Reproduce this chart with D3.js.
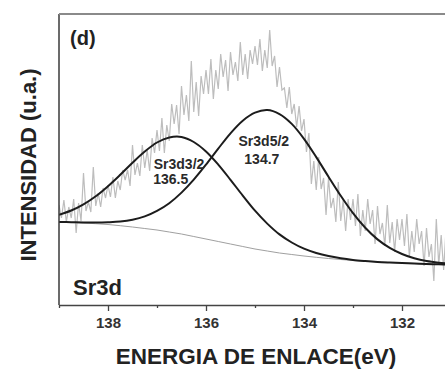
<!DOCTYPE html>
<html>
<head>
<meta charset="utf-8">
<script src="https://cdn.jsdelivr.net/npm/d3@7"></script>
<style>
  body { margin: 0; background: #fff; }
  svg { display: block; font-family: "Liberation Sans", Arial, sans-serif; }
</style>
</head>
<body>
<div id="mainDiv"></div>
<script>
// raw spectrum, one count every 0.05 eV starting at 139 eV
const spectrumStart = 139.0;
const spectrumStep = 0.05;
const spectrumCounts = [
  100, 87, 105, 83, 98, 87, 106, 72, 102, 84,
  132, 94, 103, 93, 138, 99, 112, 98, 117, 107,
  120, 108, 128, 107, 124, 115, 135, 125, 135, 119,
  160, 130, 142, 129, 160, 137, 155, 134, 167, 152,
  175, 154, 187, 152, 180, 164, 201, 181, 200, 171,
  219, 190, 210, 184, 244, 193, 223, 189, 229, 211,
  235, 211, 246, 206, 235, 216, 251, 228, 245, 214,
  253, 230, 243, 224, 263, 230, 251, 226, 255, 241,
  259, 240, 266, 234, 255, 237, 275, 239, 249, 218,
  238, 215, 217, 197, 218, 191, 201, 178, 199, 174,
  186, 153, 172, 121, 144, 115, 148, 116, 127, 90,
  127, 97, 107, 83, 123, 84, 105, 74, 106, 85,
  106, 79, 111, 69, 95, 74, 106, 81, 95, 61,
  99, 71, 82, 59, 100, 62, 83, 53, 86, 65,
  86, 59, 91, 48, 74, 53, 86, 61, 74, 39,
  77, 48, 61, 24, 86, 40, 70, 35, 77
];

const fitEnergies = [
  139, 138.75, 138.5, 138.25, 138, 137.75, 137.5, 137.25, 137, 136.75, 136.5,
  136.25, 136, 135.75, 135.5, 135.25, 135, 134.75, 134.5, 134.25, 134,
  133.75, 133.5, 133.25, 133, 132.75, 132.5, 132.25, 132, 131.75, 131.5,
  131.25, 131
];
const backgroundCounts = [
  83, 82.5, 82, 81.3, 80.5, 79.3, 78, 76.5, 75, 73, 71,
  68.5, 66, 63.5, 61, 58.5, 56, 54, 52, 50.5, 49,
  47.7, 46.5, 45.5, 44.5, 43.7, 43, 42.5, 42, 41.5, 41,
  40.7, 40.5
];
const sr3d32Counts = [
  90.3, 94.5, 100.6, 108.7, 118.8, 130.2, 142.2, 153.4, 162.5, 167.5, 168,
  163, 153.5, 140.4, 125.2, 109.4, 94.3, 81.4, 70.6, 62.5, 56.3,
  52, 48.9, 46.7, 45.1, 44, 43.1, 42.5, 42, 41.5, 41,
  40.7, 40.5
];
const sr3d52Counts = [
  83.1, 82.8, 82.6, 82.5, 82.8, 83.5, 85.3, 88.6, 94.1, 101.8, 112.4,
  125.4, 140.4, 156.4, 171.7, 184.3, 192.3, 194.9, 190.9, 181.1, 166.2,
  147.9, 128.3, 109.2, 91.8, 77.2, 65.6, 57.1, 51, 46.7, 43.9,
  42.3, 41.3
];

const xTicks = [138, 136, 134, 132];
const xMinorTicks = [139, 137, 135, 133];

const peakNames = ["Sr3d3/2", "Sr3d5/2"];
const peakPositions = ["136.5", "134.7"];

const chartSize = {
  width: 445,
  height: 371,
  margin: { top: 14, right: -6, bottom: 66, left: 59 },
};

// where the peak labels sit, in data units
const peakLabelAnchors = [
  { energy: 136.55, counts: 136, energy2: 136.72, counts2: 121 },
  { energy: 134.82, counts: 159, energy2: 134.86, counts2: 141 },
];

function createScales() {
  let x = d3.scaleLinear()
    .domain([139, 131])
    .range([chartSize.margin.left, chartSize.width - chartSize.margin.right]);

  let y = d3.scaleLinear()
    .domain([0, 291])
    .range([chartSize.height - chartSize.margin.bottom, chartSize.margin.top]);

  return { x, y };
}

function drawChart() {
  let { x, y } = createScales();
  const bottom = chartSize.height - chartSize.margin.bottom;

  const svg = d3.select("#mainDiv")
    .append("svg")
    .attr("width", chartSize.width)
    .attr("height", chartSize.height)
    .attr("viewBox", [0, 0, chartSize.width, chartSize.height]);

  svg.append("clipPath")
    .attr("id", "plotClip")
    .append("rect")
    .attr("x", chartSize.margin.left)
    .attr("y", chartSize.margin.top)
    .attr("width", chartSize.width - chartSize.margin.left)
    .attr("height", bottom - chartSize.margin.top);

  const plot = svg.append("g").attr("clip-path", "url(#plotClip)");

  let spectrum = spectrumCounts.map((c, i) => [spectrumStart - i * spectrumStep, c]);

  plot.append("path")
    .datum(spectrum)
    .attr("fill", "none")
    .attr("stroke", "#bdbdbd")
    .attr("stroke-width", 1.2)
    .attr("d", d3.line().x(d => x(d[0])).y(d => y(d[1])));

  let fitLine = d3.line()
    .x((d, i) => x(fitEnergies[i]))
    .y(d => y(d))
    .curve(d3.curveCatmullRom);

  plot.append("path")
    .datum(backgroundCounts)
    .attr("fill", "none")
    .attr("stroke", "#a0a0a0")
    .attr("stroke-width", 1)
    .attr("d", fitLine);

  [sr3d32Counts, sr3d52Counts].forEach(series => {
    plot.append("path")
      .datum(series)
      .attr("fill", "none")
      .attr("stroke", "#1c1c1c")
      .attr("stroke-width", 2)
      .attr("d", fitLine);
  });

  peakLabelAnchors.forEach((a, i) => {
    svg.append("text")
      .attr("x", x(a.energy))
      .attr("y", y(a.counts))
      .attr("text-anchor", "middle")
      .attr("font-weight", "bold")
      .attr("font-size", 14)
      .attr("fill", "#2a2a2a")
      .text(peakNames[i]);
    svg.append("text")
      .attr("x", x(a.energy2))
      .attr("y", y(a.counts2))
      .attr("text-anchor", "middle")
      .attr("font-weight", "bold")
      .attr("font-size", 14)
      .attr("fill", "#2a2a2a")
      .text(peakPositions[i]);
  });

  // frame: left and top edges
  svg.append("line")
    .attr("x1", chartSize.margin.left).attr("x2", chartSize.margin.left)
    .attr("y1", chartSize.margin.top).attr("y2", bottom)
    .attr("stroke", "#3a3a3a")
    .attr("stroke-width", 1.5);

  svg.append("line")
    .attr("x1", chartSize.margin.left).attr("x2", chartSize.width)
    .attr("y1", chartSize.margin.top).attr("y2", chartSize.margin.top)
    .attr("stroke", "#8a8a8a")
    .attr("stroke-width", 2);

  const xAxis = svg.append("g")
    .attr("transform", `translate(0,${bottom})`)
    .call(d3.axisBottom(x)
      .tickValues(xTicks)
      .tickFormat(d3.format("d"))
      .tickSize(6)
      .tickPadding(6)
      .tickSizeOuter(0));

  xAxis.select(".domain")
    .attr("stroke", "#444")
    .attr("stroke-width", 1.5);
  xAxis.selectAll(".tick line")
    .attr("stroke", "#444")
    .attr("stroke-width", 1.3);
  xAxis.selectAll(".tick text")
    .attr("font-family", "'Liberation Sans', Arial, sans-serif")
    .attr("font-weight", "bold")
    .attr("font-size", 15)
    .attr("fill", "#333");

  svg.append("g")
    .attr("transform", `translate(0,${bottom})`)
    .call(d3.axisBottom(x)
      .tickValues(xMinorTicks)
      .tickFormat("")
      .tickSize(3)
      .tickSizeOuter(0))
    .call(g => g.select(".domain").remove())
    .call(g => g.selectAll(".tick line").attr("stroke", "#444").attr("stroke-width", 1.3));

  svg.append("text")
    .attr("x", 256)
    .attr("y", 364)
    .attr("text-anchor", "middle")
    .attr("font-weight", "bold")
    .attr("font-size", 22.5)
    .attr("fill", "#222")
    .text("ENERGIA DE ENLACE(eV)");

  svg.append("text")
    .attr("transform", "translate(36,165) rotate(-90)")
    .attr("text-anchor", "middle")
    .attr("font-weight", "bold")
    .attr("font-size", 22)
    .attr("fill", "#222")
    .text("INTENSIDAD (u.a.)");

  svg.append("text")
    .attr("x", 70)
    .attr("y", 45)
    .attr("font-weight", "bold")
    .attr("font-size", 20)
    .attr("fill", "#222")
    .text("(d)");

  svg.append("text")
    .attr("x", 73)
    .attr("y", 295)
    .attr("font-weight", "bold")
    .attr("font-size", 22)
    .attr("fill", "#222")
    .text("Sr3d");
}

drawChart();
</script>
</body>
</html>
